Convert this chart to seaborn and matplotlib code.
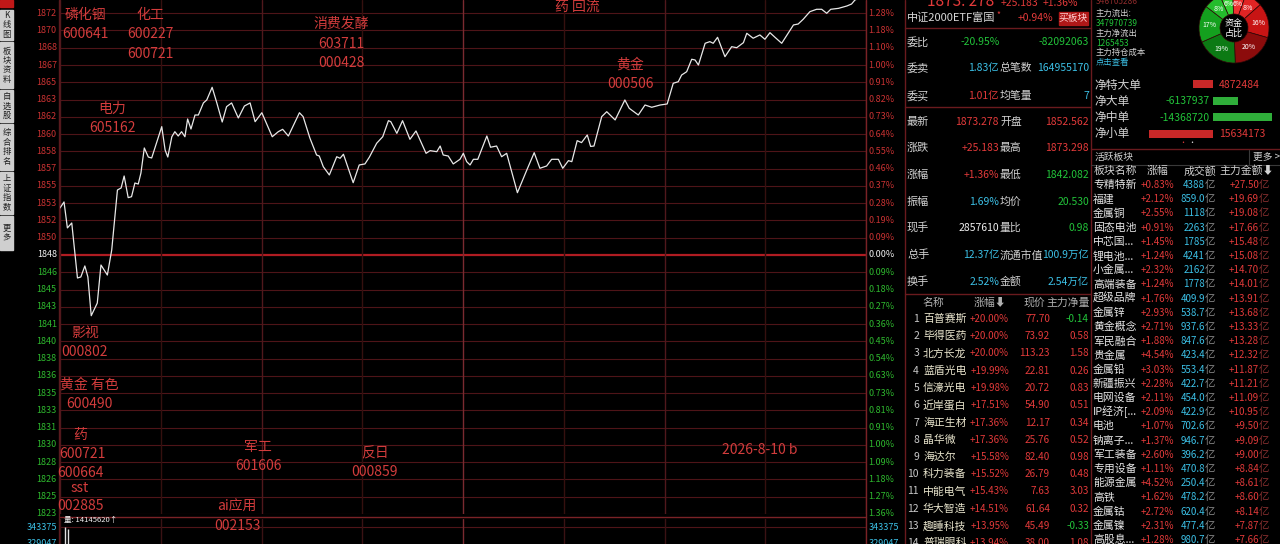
import matplotlib
matplotlib.use('Agg')
import numpy as np
import pandas as pd
import seaborn as sns
import matplotlib.pyplot as plt
from matplotlib.patches import Rectangle

# ---- intraday line (minutes after 9:30, index price) ----
minutes = [0, 1.2, 2.2, 3.5, 5.2, 6.2, 7.4, 8.3, 9.3, 11.1, 12.2, 14.1, 15.4, 17.1, 18.2, 19.1,
           20.3, 21.3, 22.3, 23.3, 24.1, 25.1, 26.3, 27.3, 30.3, 31.3, 32.1, 33.3, 34.2, 35.2,
           36.2, 37.2, 38.0, 39.0, 40.2, 41.2, 42.7, 43.7, 45.3, 46.7, 48.3, 49.6, 51.1, 53.1,
           54.9, 56.6, 58.1, 60.1, 63.2, 65.0, 66.3, 68.0, 71.3, 72.4, 74.4, 76.4, 77.2, 78.4,
           80.2, 82.4, 83.4, 84.4, 87.3, 89.1, 90.8, 92.1, 94.3, 96.1, 97.8, 98.5, 100.3, 102.0,
           104.2, 106.0, 109.0, 110.2, 112.2, 113.2, 114.1, 115.6, 117.1, 119.1, 120.1, 121.1,
           122.1, 123.1, 124.4, 127.1, 128.2, 130.0, 131.5, 133.0, 136.2, 139.0, 141.2, 142.9,
           144.9, 146.4, 148.4, 149.7, 151.4, 152.4, 154.0, 155.3, 157.0, 158.0, 159.0, 161.3,
           162.8, 165.3, 168.2, 169.5, 172.2, 174.2, 176.2, 178.7, 180.8, 182.6, 184.1, 185.1,
           186.6, 188.1, 189.1, 190.1, 192.1, 193.5, 194.5, 195.8, 198.0, 200.0, 201.5, 203.5,
           204.5, 206.4, 208.4, 209.9, 211.4, 212.9, 214.9, 218.4, 219.8, 221.3, 223.3, 225.3,
           226.8, 228.3, 229.5, 231.8, 234.3, 235.7, 236.7, 238.5, 240]
prices = [1852.66, 1853.24, 1850.72, 1851.20, 1845.86, 1845.96, 1847.03, 1845.96, 1842.20, 1843.43,
          1847.12, 1846.15, 1848.58, 1854.40, 1854.60, 1855.76, 1853.66, 1853.75, 1855.08, 1854.98,
          1856.05, 1858.48, 1857.60, 1857.51, 1860.55, 1858.28, 1857.60, 1859.57, 1860.06, 1859.64,
          1860.06, 1859.57, 1861.29, 1860.32, 1861.68, 1861.68, 1862.85, 1863.14, 1864.37, 1862.85,
          1861.00, 1862.49, 1862.85, 1861.39, 1862.55, 1862.85, 1861.03, 1861.90, 1859.57, 1860.06,
          1860.29, 1859.64, 1861.90, 1861.52, 1859.45, 1857.80, 1857.70, 1856.66, 1855.86, 1857.63,
          1857.48, 1857.87, 1855.11, 1856.83, 1856.93, 1857.58, 1858.94, 1859.57, 1861.13, 1861.03,
          1859.90, 1861.13, 1859.32, 1860.13, 1857.96, 1858.22, 1858.12, 1858.67, 1857.80, 1857.70,
          1856.93, 1857.38, 1857.96, 1857.15, 1856.83, 1857.38, 1857.38, 1859.64, 1858.55, 1858.67,
          1857.63, 1857.96, 1854.14, 1856.34, 1858.02, 1856.51, 1856.73, 1857.38, 1857.38, 1856.51,
          1857.25, 1857.15, 1859.19, 1859.00, 1859.74, 1858.63, 1858.67, 1861.52, 1862.00, 1861.20,
          1863.14, 1862.33, 1861.68, 1862.65, 1862.43, 1862.65, 1862.75, 1864.76, 1864.91, 1865.56,
          1865.88, 1867.09, 1867.02, 1866.53, 1868.64, 1868.80, 1868.64, 1869.22, 1867.34, 1868.31,
          1868.21, 1868.70, 1869.61, 1869.13, 1869.45, 1869.03, 1869.67, 1869.22, 1868.64, 1870.42,
          1870.51, 1870.97, 1871.71, 1871.94, 1871.94, 1871.55, 1871.94, 1872.03, 1872.26, 1872.45,
          1872.84, 1873.10, 1873.28]

prev_close = 1848.095
grid_step = 1.676
price_up = ['1850', '1852', '1853', '1855', '1857', '1858', '1860', '1862', '1863', '1865',
            '1867', '1868', '1870', '1872']
price_down = ['1846', '1845', '1843', '1841', '1840', '1838', '1836', '1835', '1833', '1831',
              '1830', '1828', '1826', '1825', '1823']
pct_up = ['0.09%', '0.19%', '0.28%', '0.37%', '0.46%', '0.55%', '0.64%', '0.73%', '0.82%',
          '0.91%', '1.00%', '1.10%', '1.18%', '1.28%']
pct_down = ['0.09%', '0.18%', '0.27%', '0.36%', '0.45%', '0.54%', '0.63%', '0.73%', '0.81%',
            '0.91%', '1.00%', '1.09%', '1.18%', '1.27%', '1.36%']

vol_minutes = [1.4, 2.4]
vol_values = [343375, 341200]

# hand written notes on the chart
notes = [('磷化铟', 85, 15), ('600641', 85, 34), ('化工', 150, 15), ('600227', 150, 34),
         ('600721', 150, 54), ('消费发酵', 341, 24), ('603711', 341, 44), ('000428', 341, 63),
         ('药 回流', 577, 7), ('黄金', 630, 65), ('000506', 630, 84), ('电力', 112, 109),
         ('605162', 113, 128), ('影视', 85, 333), ('000802', 85, 352), ('黄金 有色', 89, 385),
         ('600490', 89, 404), ('药', 80, 435), ('600721', 82, 454), ('600664', 80, 473),
         ('sst', 80, 488), ('002885', 80, 506), ('军工', 258, 447), ('601606', 258, 466),
         ('ai应用', 237, 507), ('002153', 237, 526), ('反日', 375, 453), ('000859', 375, 472),
         ('2026-8-10 b', 760, 450)]

sidebar = ['K线图', '板块资料', '自选股', '综合排名', '上证指数', '更多']

info_rows = [('委比', '-20.95%', '', '-82092063'),
             ('委卖', '1.83亿', '总笔数', '164955170'),
             ('委买', '1.01亿', '均笔量', '7'),
             ('最新', '1873.278', '开盘', '1852.562'),
             ('涨跌', '+25.183', '最高', '1873.298'),
             ('涨幅', '+1.36%', '最低', '1842.082'),
             ('振幅', '1.69%', '均价', '20.530'),
             ('现手', '2857610', '量比', '0.98'),
             ('总手', '12.37亿', '流通市值', '100.9万亿'),
             ('换手', '2.52%', '金额', '2.54万亿')]

stock_names = ['百普赛斯', '毕得医药', '北方长龙', '蓝盾光电', '信濠光电', '近岸蛋白', '海正生材',
               '晶华微', '海达尔', '科力装备', '中能电气', '华大智造', '趣睡科技', '普瑞眼科', '维峰电子']
stock_pct = ['+20.00%', '+20.00%', '+20.00%', '+19.99%', '+19.98%', '+17.51%', '+17.36%',
             '+17.36%', '+15.58%', '+15.52%', '+15.43%', '+14.51%', '+13.95%', '+13.94%', '+13.28%']
stock_price = ['77.70', '73.92', '113.23', '22.81', '20.72', '54.90', '12.17', '25.76', '82.40',
               '26.79', '7.63', '61.64', '45.49', '38.00', '59.05']
stock_net = [-0.14, 0.58, 1.58, 0.26, 0.83, 0.51, 0.34, 0.52, 0.98, 0.48, 3.03, 0.32, -0.33, 1.08, 0.59]

flow_labels = ['净特大单', '净大单', '净中单', '净小单']
flow_values = [4872484, -6137937, -14368720, 15634173]

pie_values = [6, 6, 8, 16, 20, 19, 17, 8]
pie_colors = ['#36d036', '#ee3030', '#e02424', '#c81414', '#8c0c0c', '#0c7a14', '#14a01e', '#24bc2c']

sector_names = ['专精特新', '福建', '金属铜', '固态电池', '中芯国...', '锂电池...', '小金属...', '高端装备',
                '超级品牌', '金属锌', '黄金概念', '军民融合', '贵金属', '金属铅', '新疆振兴', '电网设备',
                'IP经济[...', '电池', '钠离子...', '军工装备', '专用设备', '能源金属', '高铁', '金属钴',
                '金属镍', '高股息...']
sector_pct = ['+0.83%', '+2.12%', '+2.55%', '+0.91%', '+1.45%', '+1.24%', '+2.32%', '+1.24%',
              '+1.76%', '+2.93%', '+2.71%', '+1.88%', '+4.54%', '+3.03%', '+2.28%', '+2.11%',
              '+2.09%', '+1.07%', '+1.37%', '+2.60%', '+1.11%', '+4.52%', '+1.62%', '+2.72%',
              '+2.31%', '+1.28%']
sector_turnover = ['4388', '859.0', '1118', '2263', '1785', '4241', '2162', '1778', '409.9', '538.7',
                   '937.6', '847.6', '423.4', '553.4', '422.7', '454.0', '422.9', '702.6', '946.7',
                   '396.2', '470.8', '250.4', '478.2', '620.4', '477.4', '980.7']
sector_main = ['+27.50', '+19.69', '+19.08', '+17.66', '+15.48', '+15.08', '+14.70', '+14.01',
               '+13.91', '+13.68', '+13.33', '+13.28', '+12.32', '+11.87', '+11.21', '+11.09',
               '+10.95', '+9.50', '+9.09', '+9.00', '+8.84', '+8.61', '+8.60', '+8.14', '+7.87',
               '+7.66']

RED = '#e23a3a'
GREEN = '#22c43a'
CYAN = '#3cc0e6'
NOTE = '#d23c3c'
GRID = '#4e1418'
LABEL = '#d2d2d2'

sns.set_theme(style='dark', rc={'axes.facecolor': 'black', 'figure.facecolor': 'black'})
plt.rcParams['font.family'] = ['Noto Sans CJK SC', 'DejaVu Sans']
plt.rcParams['axes.unicode_minus'] = False

W, H = 1280, 544
fig = plt.figure(figsize=(12.8, 5.44), dpi=100, facecolor='black')

# ---- main price chart ----
ax = fig.add_axes([60 / W, 30 / H, 806 / W, 514 / H])
ax.set_facecolor('black')
for k in range(-15, 15):
    if k == 0:
        ax.axhline(prev_close, color='#b01c22', lw=1.6, zorder=1)
    else:
        ax.axhline(prev_close + k * grid_step, color=GRID, lw=0.8, zorder=1)
for i, m in enumerate(range(0, 241, 30)):
    c = '#7a2a30' if m == 120 else ('#50181c' if i % 2 == 0 else '#35100f')
    ax.axvline(m, color=c, lw=1.0, zorder=1)
line_df = pd.DataFrame({'minute': minutes, 'price': prices})
sns.lineplot(data=line_df, x='minute', y='price', ax=ax, color='#e8e8e8', lw=0.9, sort=False,
             estimator=None, zorder=3)
ax.set_xlim(0, 240)
ax.set_ylim(prev_close - 15 * grid_step, prev_close + 14.765 * grid_step)
ax.set_xticks([])
ax.set_yticks([])
ax.set_xlabel('')
ax.set_ylabel('')
for s in ax.spines.values():
    s.set_visible(False)

yt = ax.get_yaxis_transform()
ax.text(-0.004, prev_close, '1848', transform=yt, ha='right', va='center', color='#f0f0f0', fontsize=6.5)
ax.text(1.003, prev_close, '0.00%', transform=yt, ha='left', va='center', color='#f0f0f0', fontsize=6.5)
for k, (lab, pl) in enumerate(zip(price_up, pct_up), 1):
    y = prev_close + k * grid_step
    ax.text(-0.004, y, lab, transform=yt, ha='right', va='center', color='#c83232', fontsize=6.5)
    ax.text(1.003, y, pl, transform=yt, ha='left', va='center', color='#c83232', fontsize=6.5)
for k, (lab, pl) in enumerate(zip(price_down, pct_down), 1):
    y = prev_close - k * grid_step
    ax.text(-0.004, y, lab, transform=yt, ha='right', va='center', color='#2eb82e', fontsize=6.5)
    ax.text(1.003, y, pl, transform=yt, ha='left', va='center', color='#2eb82e', fontsize=6.5)

# ---- volume strip (cut off by the screenshot) ----
vax = fig.add_axes([60 / W, 0, 806 / W, 25 / H])
vax.set_facecolor('black')
vax.set_xlim(0, 240)
vax.set_ylim(327137, 351017)
vax.axhline(343375, color=GRID, lw=0.8)
for m in range(0, 241, 30):
    vax.axvline(m, color='#7a2a30' if m == 120 else '#3a1214', lw=1.0)
vax.vlines(vol_minutes, 0, vol_values, color='#e0e0e0', lw=1.0)
vax.set_xticks([])
vax.set_yticks([])
for s in vax.spines.values():
    s.set_visible(False)

# ---- donut of fund share ----
pax = fig.add_axes([1199 / W, (H - 63) / H, 70 / W, 70 / H])
pax.pie(pie_values, colors=pie_colors, startangle=113.6, counterclock=False,
        wedgeprops=dict(width=0.6, edgecolor='#300808', linewidth=0.5),
        autopct=lambda p: f'{p:.0f}%', pctdistance=0.7,
        textprops=dict(color='white', fontsize=5))
pax.text(0, 0, '资金\n占比', ha='center', va='center', color='white', fontsize=6.5, linespacing=1.1)
pax.set_xlim(-1.0, 1.0)
pax.set_ylim(-1.0, 1.0)
pax.set_aspect('equal')

# ---- flow bars ----
fax = fig.add_axes([1140 / W, (H - 142) / H, 140 / W, 66 / H])
fax.set_facecolor('none')
flow_df = pd.DataFrame({'label': flow_labels, 'bar': [-v for v in flow_values],
                        'side': ['in' if v > 0 else 'out' for v in flow_values]})
sns.barplot(data=flow_df, x='bar', y='label', hue='side', palette={'in': '#c82828', 'out': '#2fae3a'},
            orient='h', width=0.5, dodge=False, legend=False, linewidth=0, edgecolor='none',
            saturation=1, ax=fax)
fax.set_xlim(-73 / 4.1e-6, 67 / 4.1e-6)
fax.set_axis_off()

# ---- overlay in pixel coordinates for all the panel text ----
ov = fig.add_axes([0, 0, 1, 1], zorder=5)
ov.set_xlim(0, W)
ov.set_ylim(H, 0)
ov.axis('off')
ov.patch.set_alpha(0)


def txt(x, y, s, c, size=8.5, ha='left', **kw):
    ov.text(x, y, s, color=c, fontsize=size, ha=ha, va='center', **kw)


for s, x, y in notes:
    txt(x, y, s, NOTE, size=10, ha='center')

# left sidebar buttons
ov.add_patch(Rectangle((0, 0), 13, 7, color='#c01818'))
edges = [10, 42, 90, 124, 172, 216, 252]
for lab, y0, y1 in zip(sidebar, edges[:-1], edges[1:]):
    ov.add_patch(Rectangle((0, y0), 13, y1 - y0 - 2, color='#cfcfcf'))
    txt(6.5, (y0 + y1) / 2 - 1, '\n'.join(lab), '#202020', size=6, ha='center', linespacing=1.05)

# chart frame lines
ov.plot([59, 59], [0, 544], color='#5a1a1e', lw=1)
ov.plot([866, 866], [0, 544], color='#7a2226', lw=1)
ov.plot([60, 866], [516.5, 516.5], color='#7a2226', lw=1)
txt(64, 520, '量: 14145620↑', '#f0f0f0', size=5.5)
txt(57, 527, '343375', CYAN, size=6.5, ha='right')
txt(869, 527, '343375', CYAN, size=6.5)
txt(57, 543, '329047', CYAN, size=6.5, ha='right')
txt(869, 543, '329047', CYAN, size=6.5)

# info panel
for x in (905, 1091):
    ov.plot([x, x], [0, 544], color='#6a1a1e', lw=1)
for y in (28, 107, 294):
    ov.plot([905, 1091], [y, y], color='#6a1a1e', lw=1)
txt(927, 1, '1873. 278', RED, size=11)
txt(1001, 3, '+25.183', RED, size=7.5)
txt(1043, 3, '+1.36%', RED, size=7.5)
txt(907, 18, '中证2000ETF富国', '#d8d8d8', size=8)
txt(996, 15, '*', RED, size=6)
txt(1053, 18, '+0.94%', RED, size=7.5, ha='right')
ov.add_patch(Rectangle((1059, 12), 29, 13, color='#b01818'))
txt(1073.5, 18, '买板块', '#ffd0d0', size=7, ha='center')

info_y = [42, 68, 96, 122, 148, 175, 202, 228, 255, 282]
val1_colors = [GREEN, CYAN, RED, RED, RED, RED, CYAN, '#f0f0f0', CYAN, CYAN]
val2_colors = [GREEN, CYAN, CYAN, RED, RED, GREEN, GREEN, GREEN, CYAN, CYAN]
for (l1, v1, l2, v2), y, c1, c2 in zip(info_rows, info_y, val1_colors, val2_colors):
    txt(907, y, l1, LABEL, size=8)
    if l2:
        txt(999, y, v1, c1, size=7.5, ha='right')
        txt(1000, y, l2, LABEL, size=7.8)
    else:
        txt(1000, y, v1, c1, size=7.5, ha='right')
    txt(1089, y, v2, c2, size=7.5, ha='right')

# stock ranking list
txt(933, 303, '名称', '#b0b0b0', size=7.8, ha='center')
txt(990, 303, '涨幅⬇', '#b0b0b0', size=7.8, ha='center')
txt(1034, 303, '现价', '#b0b0b0', size=7.8, ha='center')
txt(1068, 303, '主力净量', '#b0b0b0', size=7.8, ha='center')
for i, (nm, pc, pr, nt) in enumerate(zip(stock_names, stock_pct, stock_price, stock_net)):
    y = 319 + 17.25 * i
    txt(919, y, str(i + 1), '#c8c8c8', size=7.5, ha='right')
    txt(923, y, nm, '#e8e4cc', size=7.8)
    txt(1009, y, pc, RED, size=7, ha='right')
    txt(1050, y, pr, RED, size=7.2, ha='right')
    txt(1089, y, f'{nt:.2f}', GREEN if nt < 0 else RED, size=7.2, ha='right')

# fund flow side panel
side_lines = [('346705286', '#8a2a2a', 2), ('主力流出:', LABEL, 13), ('347970739', GREEN, 23),
              ('主力净流出', LABEL, 33), ('1265453', GREEN, 43), ('主力持仓成本', LABEL, 52),
              ('点击查看', CYAN, 62)]
for s, c, y in side_lines:
    txt(1096, y, s, c, size=6)
for i, (lab, v) in enumerate(zip(flow_labels, flow_values)):
    y = 85 + 16.3 * i
    txt(1094, y, lab, LABEL, size=8.5)
    if v > 0:
        txt(1219, y, str(v), RED, size=7.5)
    else:
        txt(1210, y, str(v), GREEN, size=7.5, ha='right')
txt(1183, 143, '•', RED, size=5, ha='center')
txt(1192, 143, '•', '#e0e0e0', size=5, ha='center')
ov.plot([1091, 1280], [149, 149], color='#6a1a1e', lw=1)
ov.plot([1091, 1280], [165, 165], color='#3a3a3a', lw=0.8)
txt(1095, 157, '活跃板块', LABEL, size=7)
ov.plot([1249, 1249], [150, 164], color='#3a3a3a', lw=0.8)
txt(1253, 157, '更多 >', LABEL, size=7)
txt(1094, 171, '板块名称', LABEL, size=7.8)
txt(1158, 171, '涨幅', LABEL, size=7.8, ha='center')
txt(1200, 171, '成交额', LABEL, size=7.8, ha='center')
txt(1247, 171, '主力金额⬇', LABEL, size=7.8, ha='center')
for i, (nm, pc, tv, mn) in enumerate(zip(sector_names, sector_pct, sector_turnover, sector_main)):
    y = 185 + 14.2 * i
    txt(1093, y, nm, '#e6e6e6', size=7.8)
    txt(1174, y, pc, RED, size=7, ha='right')
    txt(1205, y, tv, CYAN, size=7, ha='right')
    txt(1205, y, '亿', '#8a8a8a', size=7.5)
    txt(1259, y, mn, RED, size=7, ha='right')
    txt(1259, y, '亿', '#8a3030', size=7.5)

fig.savefig('out.png', dpi=100, facecolor='black')
